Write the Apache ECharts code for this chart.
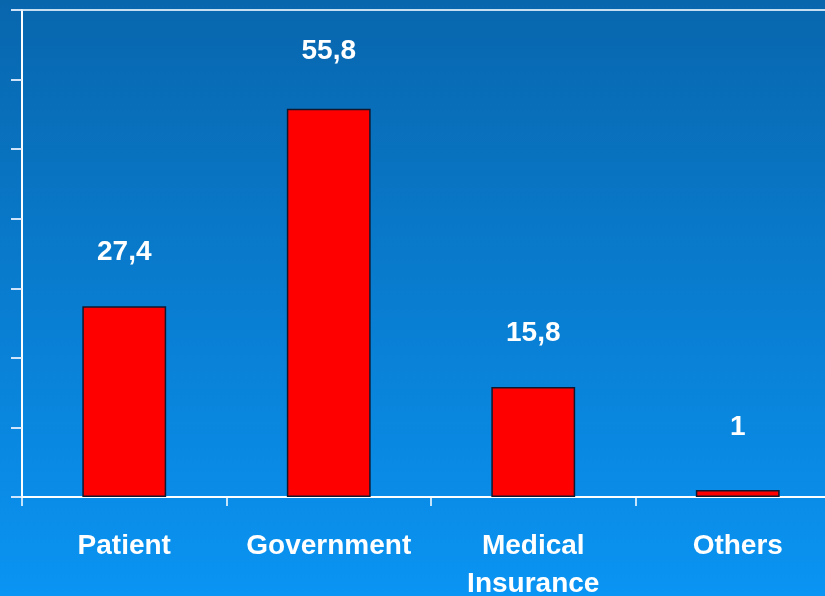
<!DOCTYPE html>
<html><head><meta charset="utf-8">
<script src="https://cdn.jsdelivr.net/npm/echarts@6/dist/echarts.min.js"></script>
<style>html,body{margin:0;padding:0;width:100%;height:100%;overflow:hidden;}#c{position:absolute;left:0;top:0;width:825px;height:596px;}</style>
</head><body><div id="c"></div>
<script>
const categories = ['Patient', 'Government', 'Medical\nInsurance', 'Others'];
const values = [27.4, 55.8, 15.8, 1];
const labelText = ['27,4', '55,8', '15,8', '1'];

const chart = echarts.init(document.getElementById('c'), null, {width: 825, height: 596});
const white = '#ffffff';
chart.setOption({
  animation: false,
  backgroundColor: new echarts.graphic.LinearGradient(0, 0, 0, 1, [
    {offset: 0, color: '#0866ad'},
    {offset: 1, color: '#0a94f3'}
  ]),
  grid: {left: 22, top: 10, width: 818, height: 487, containLabel: false, outerBoundsMode: 'none'},
  xAxis: [{
    type: 'category',
    data: categories,
    axisLine: {show: true, lineStyle: {color: white, width: 2}},
    axisTick: {show: true, length: 9, lineStyle: {color: white, width: 1.5}},
    axisLabel: {
      color: white, fontFamily: 'Liberation Sans, Arial', fontWeight: 'bold',
      fontSize: 28, margin: 30, lineHeight: 38, interval: 0
    }
  }, {
    type: 'category', position: 'top', data: categories,
    axisLine: {show: true, lineStyle: {color: 'rgba(220,235,250,0.9)', width: 2}},
    axisTick: {show: false}, axisLabel: {show: false}
  }],
  yAxis: {
    type: 'value', min: 0, max: 70, interval: 10,
    axisLine: {show: true, lineStyle: {color: white, width: 2}},
    axisTick: {show: true, length: 11, lineStyle: {color: 'rgba(230,240,255,0.9)', width: 2}},
    axisLabel: {show: false},
    splitLine: {show: false}
  },
  series: [{
    type: 'bar',
    data: values.map((v, i) => ({
      value: v,
      label: {distance: i === 1 ? 44 : (i === 3 ? 49 : 40)}
    })),
    barWidth: '41%',
    itemStyle: {color: '#ff0000', borderColor: '#101830', borderWidth: 1.5},
    label: {
      show: true, position: 'top', distance: 40,
      color: white, fontFamily: 'Liberation Sans, Arial', fontWeight: 'bold', fontSize: 28,
      formatter: p => labelText[p.dataIndex]
    }
  }]
});
</script></body></html>
